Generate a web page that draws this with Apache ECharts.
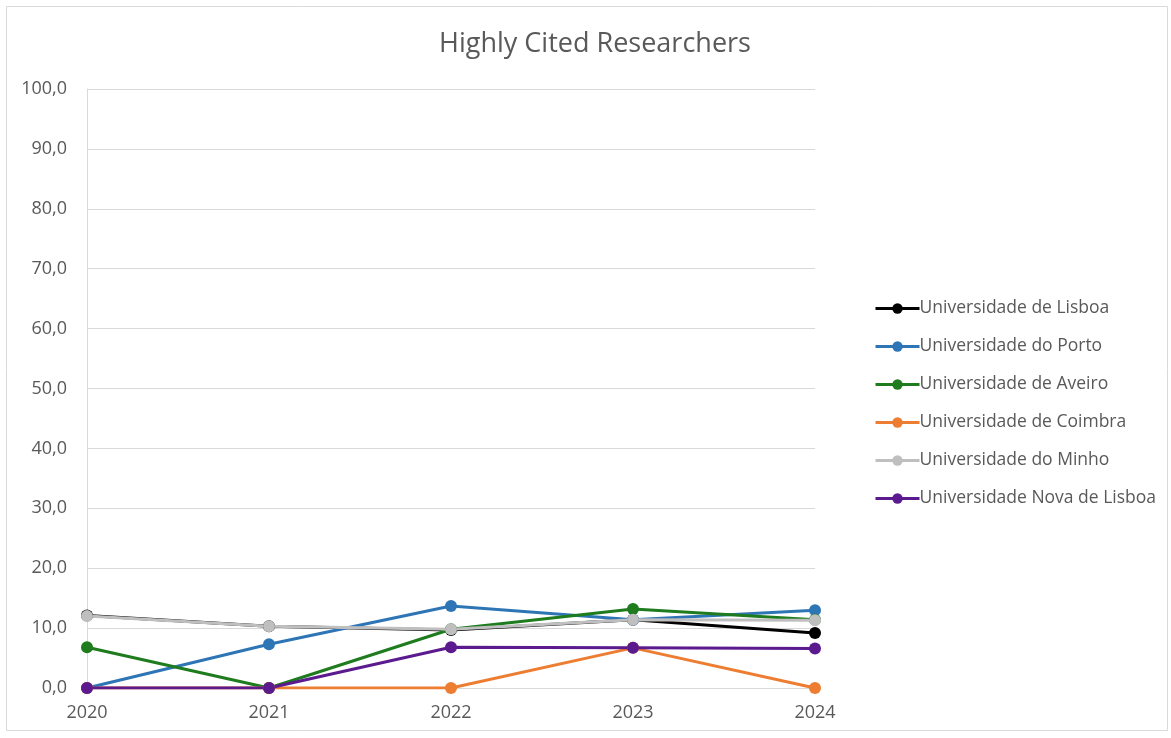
<!DOCTYPE html>
<html><head><meta charset="utf-8">
<script src="https://cdn.jsdelivr.net/npm/echarts@6/dist/echarts.min.js"></script>
<style>html,body{margin:0;padding:0;background:#fff}#c{width:1171px;height:738px}</style>
</head><body><div id="c"></div>
<script>
const years = ['2020','2021','2022','2023','2024'];
const lisboa = [12.1, 10.3, 9.7, 11.4, 9.2];
const porto = [0, 7.3, 13.7, 11.4, 13.0];
const aveiro = [6.8, 0, 9.8, 13.2, 11.4];
const coimbra = [0, 0, 0, 6.7, 0];
const minho = [12.0, 10.3, 9.8, 11.4, 11.3];
const nova = [0, 0, 6.8, 6.7, 6.6];
const names = ['Universidade de Lisboa','Universidade do Porto','Universidade de Aveiro','Universidade de Coimbra','Universidade do Minho','Universidade Nova de Lisboa'];
const colors = ['#000000','#2e75b6','#1e7b1e','#ed7d31','#bfbfbf','#5b1a8e'];
const data = [lisboa, porto, aveiro, coimbra, minho, nova];
const chart = echarts.init(document.getElementById('c'));
chart.setOption({
  animation:false,
  graphic:[{type:'rect',shape:{x:6.5,y:6.5,width:1161,height:724},style:{fill:'none',stroke:'#d9d9d9',lineWidth:1}}],
  title:{text:'Highly Cited Researchers',left:590,top:26,textAlign:'center',textStyle:{fontFamily:'Open Sans',fontWeight:'normal',fontSize:27,color:'#595959'}},
  legend:{orient:'vertical',left:869,top:294,itemGap:19,itemWidth:44,itemHeight:13,
    lineStyle:{width:3},
    textStyle:{fontFamily:'Open Sans',fontSize:17.5,lineHeight:19,color:'#595959',padding:[0,0,0,-5]},data:names},
  grid:{left:87,right:356,top:89,bottom:50},
  xAxis:{type:'category',data:years,boundaryGap:false,
    axisLine:{lineStyle:{color:'#d9d9d9'}},axisTick:{show:false},
    axisLabel:{fontFamily:'Open Sans',fontSize:18,color:'#595959',margin:16,showMinLabel:true,showMaxLabel:true}},
  yAxis:{type:'value',min:0,max:100,interval:10,
    axisLine:{show:true,lineStyle:{color:'#d9d9d9'}},
    splitLine:{lineStyle:{color:'#d9d9d9'}},
    axisLabel:{fontFamily:'Open Sans',fontSize:18,color:'#595959',margin:20,formatter:v=>v.toFixed(1).replace('.',',')}},
  series:data.map((d,i)=>({name:names[i],type:'line',data:d,color:colors[i],
    symbol:'circle',symbolSize:12,lineStyle:{width:3,color:colors[i]},itemStyle:{color:colors[i]}}))
});
</script></body></html>
